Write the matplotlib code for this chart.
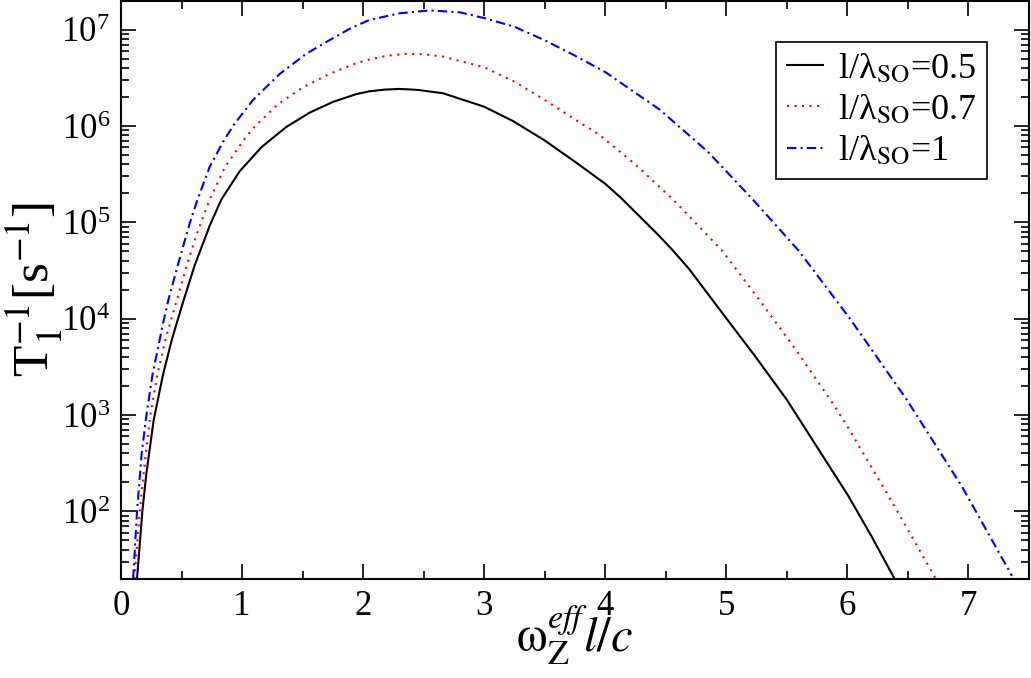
import matplotlib
matplotlib.use('agg')
import matplotlib.pyplot as plt
import numpy as np
from matplotlib.ticker import LogLocator, MultipleLocator, NullFormatter

plt.rcParams['font.family'] = ['Liberation Serif', 'DejaVu Serif']
plt.rcParams['mathtext.fontset'] = 'stix'

# readings, x = omega_Z^eff l / c, y stored as log10(T1^-1 / s^-1)
black_x = [0.132, 0.176, 0.209, 0.27, 0.347, 0.415, 0.445, 0.514, 0.61, 0.734, 0.83, 0.98,
           1.16, 1.365, 1.56, 1.75, 1.94, 2.05, 2.18, 2.30, 2.45, 2.66, 3.00, 3.24, 3.50, 3.76,
           4.00, 4.125, 4.445, 4.55, 4.69, 4.96, 5.238, 5.499, 6.008, 6.20, 6.39]
black_log10 = [1.30, 2.00, 2.39, 2.95, 3.42, 3.76, 3.89, 4.18, 4.56, 4.97, 5.24, 5.53,
               5.78, 5.99, 6.14, 6.25, 6.33, 6.36, 6.378, 6.385, 6.375, 6.34, 6.20, 6.05, 5.85,
               5.62, 5.40, 5.26, 4.86, 4.72, 4.52, 4.07, 3.61, 3.16, 2.16, 1.74, 1.30]

red_x = [0.11, 0.154, 0.20, 0.242, 0.30, 0.366, 0.40, 0.46, 0.54, 0.62, 0.73, 0.857, 1.01,
         1.10, 1.30, 1.50, 1.72, 1.94, 2.05, 2.20, 2.36, 2.50, 2.66, 3.00, 3.25, 3.50, 3.76,
         3.95, 4.25, 4.565, 4.963, 5.24, 5.55, 5.88, 6.01, 6.40, 6.73]
red_log10 = [1.30, 2.00, 2.55, 3.00, 3.42, 3.78, 3.93, 4.19, 4.54, 4.86, 5.23, 5.57, 5.85,
             5.99, 6.23, 6.40, 6.54, 6.65, 6.69, 6.73, 6.75, 6.745, 6.72, 6.61, 6.46, 6.27,
             6.06, 5.91, 5.60, 5.23, 4.71, 4.25, 3.72, 3.12, 2.86, 2.03, 1.30]

blue_x = [0.10, 0.132, 0.17, 0.21, 0.26, 0.319, 0.343, 0.39, 0.47, 0.54, 0.57, 0.63, 0.73,
          0.84, 0.93, 1.09, 1.31, 1.53, 1.72, 1.89, 2.05, 2.30, 2.55, 2.80, 3.00, 3.25, 3.50,
          3.75, 4.00, 4.45, 4.85, 5.224, 5.595, 6.01, 6.49, 6.95, 7.36]
blue_log10 = [1.30, 2.00, 2.60, 3.00, 3.42, 3.78, 3.93, 4.19, 4.56, 4.87, 5.00, 5.23, 5.57,
              5.83, 6.01, 6.27, 6.54, 6.75, 6.89, 7.01, 7.10, 7.17, 7.20, 7.18, 7.12, 7.03, 6.89,
              6.73, 6.56, 6.17, 5.73, 5.23, 4.71, 4.02, 3.16, 2.25, 1.33]

labels = ['l/λ$_{\\mathrm{SO}}$=0.5', 'l/λ$_{\\mathrm{SO}}$=0.7', 'l/λ$_{\\mathrm{SO}}$=1']

fig = plt.figure(figsize=(10.31, 6.78), dpi=100)
ax = fig.add_axes([0.1174, 0.1465, 0.8806, 0.8525])

ax.plot(black_x, np.power(10.0, black_log10), color='black', lw=1.5, ls='-', label=labels[0])
ax.plot(red_x, np.power(10.0, red_log10), color='red', lw=1.5, ls=(0, (1, 2.6)), label=labels[1])
ax.plot(blue_x, np.power(10.0, blue_log10), color='blue', lw=1.5, ls=(0, (4.5, 2, 1, 2)), label=labels[2])

ax.set_yscale('log')
ax.set_xlim(0, 7.5)
ax.set_ylim(20, 2e7)

ax.xaxis.set_major_locator(MultipleLocator(1))
ax.xaxis.set_minor_locator(MultipleLocator(0.5))
ax.yaxis.set_major_locator(LogLocator(base=10, numticks=20))
ax.yaxis.set_minor_locator(LogLocator(base=10, subs=np.arange(2, 10), numticks=20))
ax.yaxis.set_minor_formatter(NullFormatter())

ax.tick_params(which='both', direction='in', top=True, right=True, width=1.2,
               labelsize=25, pad=8)
ax.tick_params(which='major', length=11)
ax.tick_params(which='minor', length=6)
for s in ax.spines.values():
    s.set_linewidth(1.5)

ax.set_xlabel(r'$\mathrm{\omega}_{\mathrm{Z}}^{eff}l/c$', fontsize=35)
ax.xaxis.label.set_va('baseline')
ax.xaxis.set_label_coords(0.5, -0.126)
ax.set_ylabel(r'T$_1^{-1}$[s$^{-1}$]', fontsize=37)
ax.yaxis.set_label_coords(-0.062, 0.5)

leg = ax.legend(loc='upper right', bbox_to_anchor=(0.9537, 0.929), fontsize=26,
                handlelength=1.0, handletextpad=0.4, labelspacing=0.22,
                borderpad=0.3, borderaxespad=0, fancybox=False, framealpha=1)
leg.get_frame().set_edgecolor('black')
leg.get_frame().set_linewidth(1.2)

fig.savefig('out.png', dpi=100)
